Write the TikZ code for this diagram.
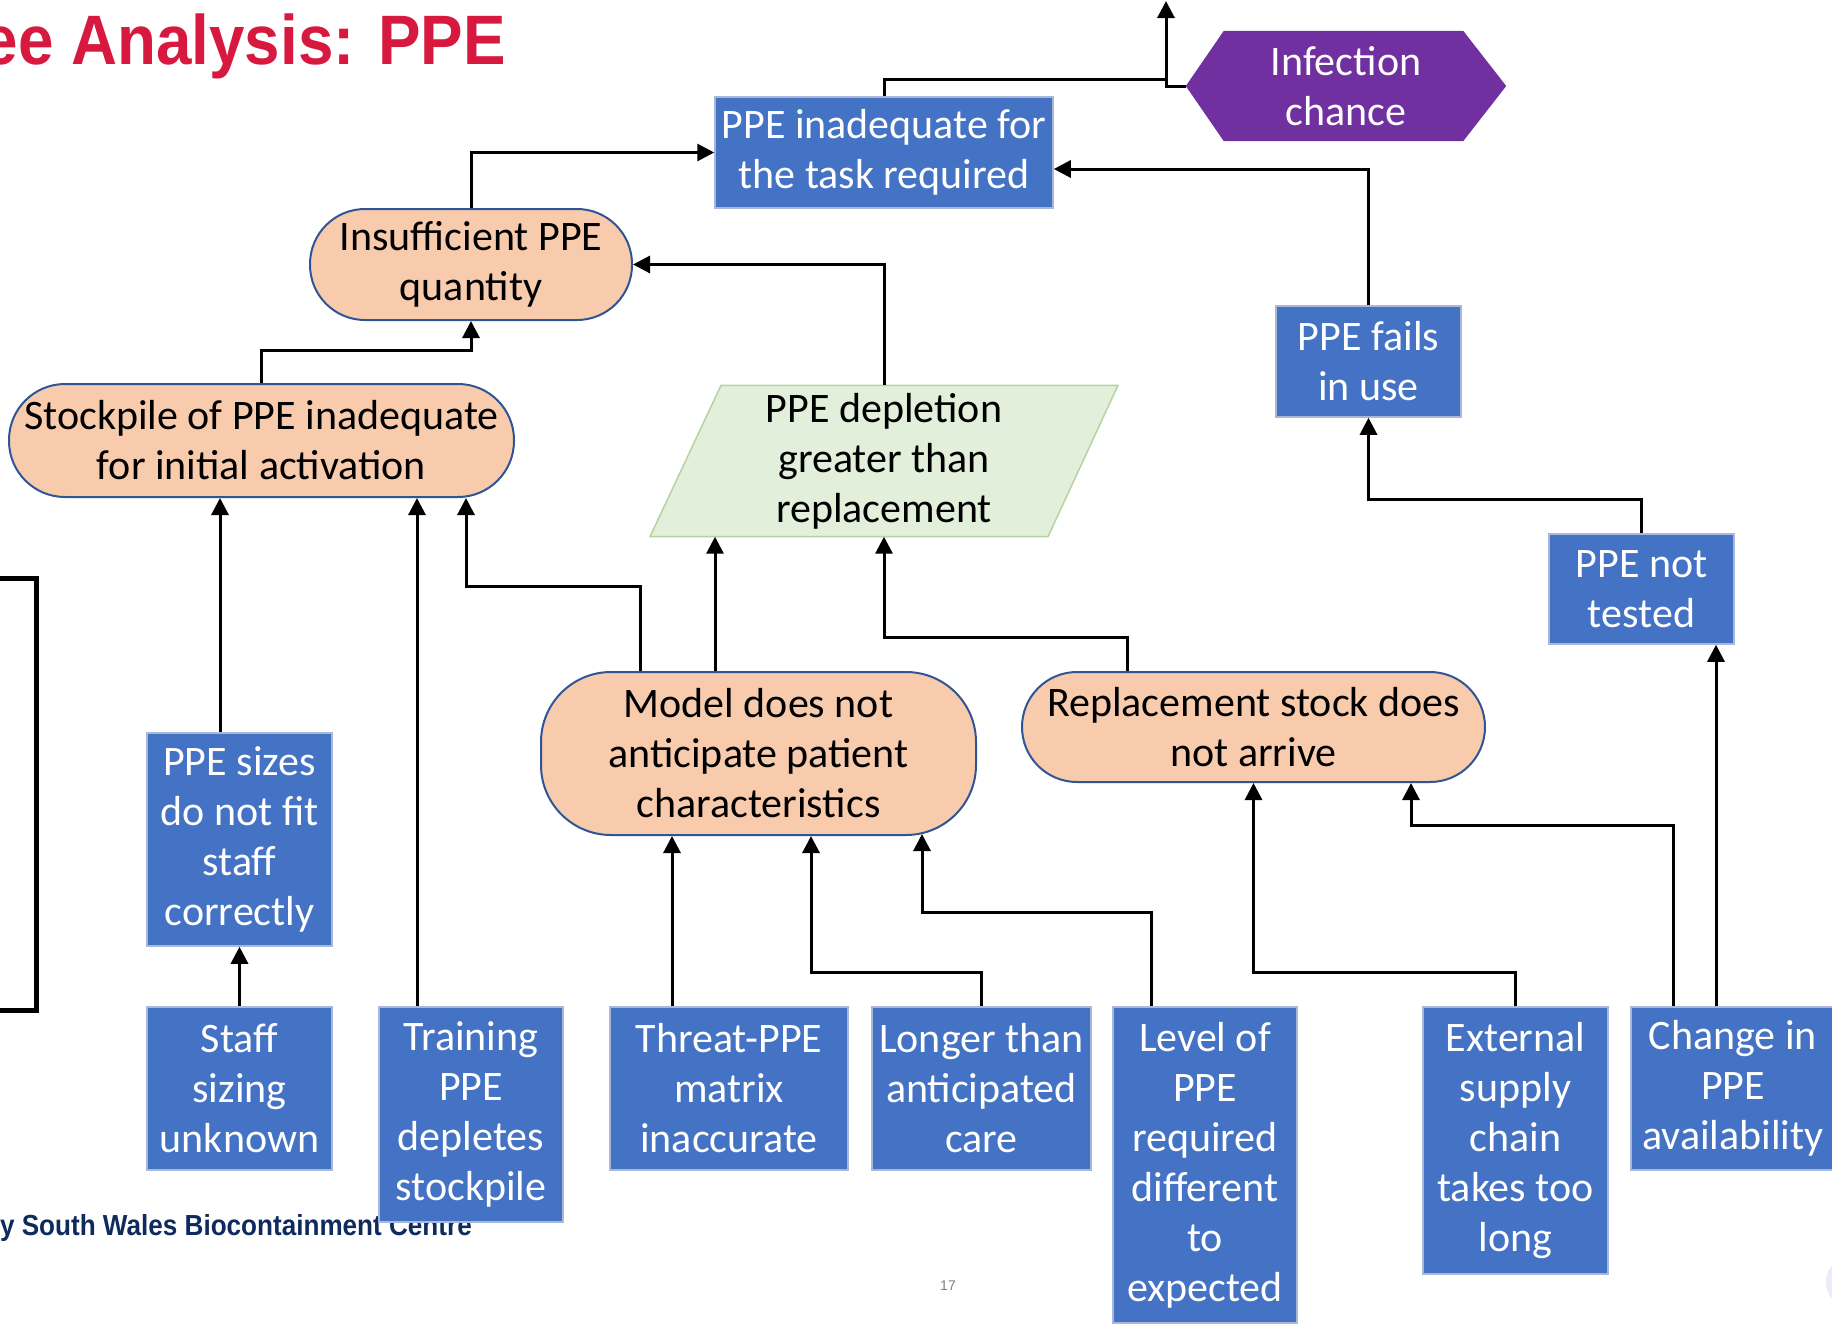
\documentclass[tikz,border=0pt]{standalone}
\usepackage{fontspec}
\setmainfont{Carlito}
\newfontfamily\arialfont{Liberation Sans}
\usepackage{graphicx}
\usetikzlibrary{arrows.meta,calc,backgrounds}
\definecolor{pblue}{HTML}{4472C4}
\definecolor{pborder}{HTML}{A9B8D8}
\definecolor{porange}{HTML}{F8CBAD}
\definecolor{pedge}{HTML}{2F5597}
\definecolor{pgreen}{HTML}{E2EFDA}
\definecolor{pgreenedge}{HTML}{B5D3A0}
\definecolor{ppurple}{HTML}{7030A0}
\definecolor{ptitle}{HTML}{D7183F}
\definecolor{pnavy}{HTML}{0F2A5C}
\begin{document}
\begin{tikzpicture}[x=1pt,y=-1pt,
  base/.style={font=\fontsize{42}{50}\selectfont, align=center, inner sep=0pt},
  bluebox/.style={base, fill=pblue, draw=pborder, line width=1.5pt, text=white},
  orangebox/.style={base, fill=porange, draw=pedge, line width=2pt, text=black},
  conn/.style={line width=3pt, draw=black},
  arr/.style={conn, -{Triangle[length=17pt,width=17pt]}}]
\useasboundingbox (0,0) rectangle (1832,1326);
\clip (0,0) rectangle (1832,1326);

% title, footer, decorations
\node[anchor=base east, inner sep=0pt, text=ptitle, font={\arialfont\bfseries\fontsize{70}{76}\selectfont}] (title) at (506,64) {\scalebox{0.91}[1]{ee Analysis: PPE}};
\node[anchor=base east, inner sep=0pt, text=pnavy, font={\arialfont\bfseries\fontsize{29}{32}\selectfont}] (footer) at (472,1235) {\scalebox{0.9}[1]{y South Wales Biocontainment Centre}};
\node[inner sep=0pt, text=gray, font={\arialfont\fontsize{14}{16}\selectfont}] (pagenum) at (948,1286) {17};
\draw[line width=5pt] (-10,578) -- (36,578) -- (36,1010) -- (-10,1010);
\fill[black!12!blue!8] (1852,1282) circle (26);

% nodes
\node[base, text=white, minimum width=320pt, minimum height=110pt] (inf) at (1346,86) {Infection\\chance};
\node[bluebox, minimum width=338pt, minimum height=111pt] (ppeinad) at (884,152.5) {PPE inadequate for\\the task required};
\node[orangebox, rounded corners=55pt, minimum width=322pt, minimum height=111pt] (insuf) at (471,264.5) {Insufficient PPE\\quantity};
\node[bluebox, minimum width=185pt, minimum height=111pt] (fails) at (1368.5,361.5) {PPE fails\\in use};
\node[orangebox, rounded corners=56pt, minimum width=505pt, minimum height=113pt] (stock) at (261.5,440.5) {Stockpile of PPE inadequate\\for initial activation};
\node[base, minimum width=398pt, minimum height=151pt] (dep) at (884,461) {PPE depletion\\greater than\\replacement};
\node[bluebox, minimum width=185pt, minimum height=110pt] (nottested) at (1641.5,589) {PPE not\\tested};
\node[orangebox, rounded corners=70pt, minimum width=435pt, minimum height=163pt] (model) at (758.5,753.5) {Model does not\\anticipate patient\\characteristics};
\node[orangebox, rounded corners=55pt, minimum width=463pt, minimum height=110pt] (repl) at (1253.5,727) {Replacement stock does\\not arrive};
\node[bluebox, minimum width=185pt, minimum height=213pt] (sizes) at (239.5,839.5) {PPE sizes\\do not fit\\staff\\correctly};
\node[bluebox, minimum width=185pt, minimum height=163pt] (staff) at (239.5,1088.5) {Staff\\sizing\\unknown};
\node[bluebox, minimum width=184pt, minimum height=215pt] (training) at (471,1114.5) {Training\\PPE\\depletes\\stockpile};
\node[bluebox, minimum width=238pt, minimum height=163pt] (threat) at (729,1088.5) {Threat-PPE\\matrix\\inaccurate};
\node[bluebox, minimum width=219pt, minimum height=163pt] (longer) at (981.5,1088.5) {Longer than\\anticipated\\care};
\node[bluebox, minimum width=184pt, minimum height=316pt] (level) at (1205,1165) {Level of\\PPE\\required\\different\\to\\expected};
\node[bluebox, minimum width=185pt, minimum height=267pt] (external) at (1515.5,1140.5) {External\\supply\\chain\\takes too\\long};
\node[bluebox, minimum width=204pt, minimum height=163pt] (change) at (1733,1088.5) {Change in\\PPE\\availability};

\begin{scope}[on background layer]
  \fill[ppurple] (inf.west) -- ($(inf.north west)+(38,0)$) -- ($(inf.north east)+(-43,0)$) -- (inf.east) -- ($(inf.south east)+(-43,0)$) -- ($(inf.south west)+(38,0)$) -- cycle;
  \filldraw[fill=pgreen, draw=pgreenedge, line width=1.5pt] ($(dep.north)+(-163,0)$) -- ($(dep.north)+(234,0)$) -- ($(dep.south)+(164,0)$) -- ($(dep.south)+(-234,0)$) -- cycle;
\end{scope}

% connectors
\coordinate (jn1) at (1166,79);
\coordinate (topout) at (1166,1);
\draw[arr] (ppeinad.north) |- (jn1) -- (topout);
\draw[conn] (inf.west) -| (jn1);
\draw[arr] (insuf.north) |- (ppeinad.west);
\draw[arr] (fails.north) |- ($(ppeinad.east)+(0,16.5)$);
\draw[arr] (stock.north) -- ($(stock.north)+(0,-33)$) -| (insuf.south);
\draw[arr] (dep.north) |- (insuf.east);
\draw[arr] (nottested.north) -- ($(nottested.north)+(0,-34)$) -| (fails.south);
\draw[arr] ($(model.north)+(-118.5,0)$) -- ($(model.north)+(-118.5,-85)$) -| ($(stock.south)+(204.5,0)$);
\draw[arr] ($(model.north)+(-43.5,0)$) -- ($(dep.south)+(-169,0)$);
\draw[arr] ($(repl.north)+(-126.5,0)$) -- ($(repl.north)+(-126.5,-34)$) -| (dep.south);
\draw[arr] ($(sizes.north)+(-19.5,0)$) -- ($(stock.south)+(-41.5,0)$);
\draw[arr] (staff.north) -- (sizes.south);
\draw[arr] ($(training.north)+(-54,0)$) -- ($(stock.south)+(155.5,0)$);
\draw[arr] ($(threat.north)+(-57,0)$) -- ($(model.south)+(-86.5,0)$);
\draw[arr] (longer.north) -- ($(longer.north)+(0,-34)$) -| ($(model.south)+(52.5,0)$);
\draw[arr] ($(level.north)+(-54,0)$) -- ($(level.north)+(-54,-94)$) -| ($(model.south)+(163.5,-2)$);
\draw[arr] (external.north) -- ($(external.north)+(0,-34)$) -| (repl.south);
\draw[arr] ($(change.north)+(-60,0)$) -- ($(change.north)+(-60,-181)$) -| ($(repl.south)+(157.5,0)$);
\draw[arr] ($(change.north)+(-17,0)$) -- (nottested.south -| 1716,0);
\end{tikzpicture}
\end{document}
